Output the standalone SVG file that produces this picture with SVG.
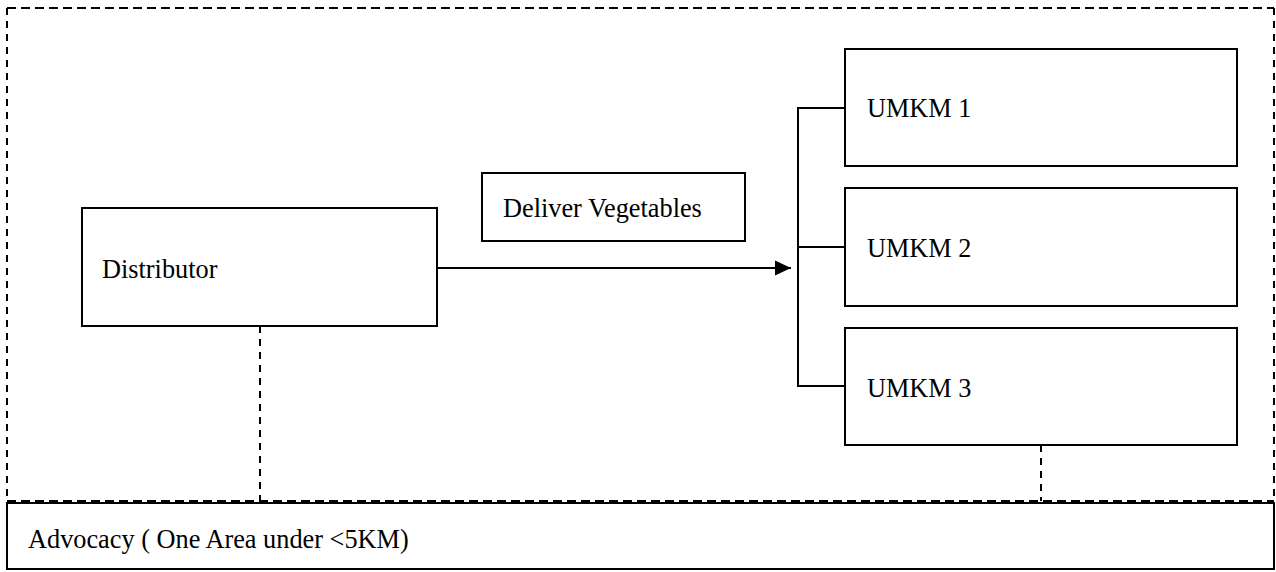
<svg xmlns="http://www.w3.org/2000/svg" width="1276" height="572" viewBox="0 0 1276 572">
<style>
.box{fill:#fff;stroke:#000;stroke-width:2}
.t{font-family:"Liberation Serif","Times New Roman",serif;font-size:26.3px;fill:#000}
.ln{stroke:#000;stroke-width:2;fill:none}
.dh{stroke:#000;stroke-width:2;fill:none;stroke-dasharray:9 5}
.dv{stroke:#000;stroke-width:2;fill:none;stroke-dasharray:7 6}
</style>
<defs>
<marker id="arr" markerWidth="16" markerHeight="16" refX="16" refY="8" orient="auto" markerUnits="userSpaceOnUse">
<path d="M0,0.5 L16,8 L0,15.5 Z" fill="#000"/>
</marker>
</defs>
<g id="boundary">
<line class="dh" x1="7" y1="8" x2="1274" y2="8"/>
<line class="dv" x1="7" y1="8" x2="7" y2="501"/>
<line class="dv" x1="1274" y1="8" x2="1274" y2="501"/>
<line class="dh" x1="7" y1="501" x2="1274" y2="501"/>
</g>
<g id="connectors">
<line class="ln" x1="437" y1="268" x2="791" y2="268" marker-end="url(#arr)"/>
<polyline class="ln" points="845,108 798,108 798,386 845,386"/>
<line class="ln" x1="798" y1="247" x2="845" y2="247"/>
<line class="dv" x1="260" y1="326" x2="260" y2="501"/>
<line class="dv" x1="1041" y1="445" x2="1041" y2="501"/>
</g>
<g id="distributor">
<rect class="box" x="82" y="208" width="355" height="118"/>
<text class="t" x="102" y="278">Distributor</text>
</g>
<g id="deliver">
<rect class="box" x="482" y="173" width="263" height="68"/>
<text class="t" x="503" y="217">Deliver Vegetables</text>
</g>
<g id="umkm1">
<rect class="box" x="845" y="49" width="392" height="117"/>
<text class="t" x="867" y="117">UMKM 1</text>
</g>
<g id="umkm2">
<rect class="box" x="845" y="188" width="392" height="118"/>
<text class="t" x="867" y="257">UMKM 2</text>
</g>
<g id="umkm3">
<rect class="box" x="845" y="328" width="392" height="117"/>
<text class="t" x="867" y="397">UMKM 3</text>
</g>
<g id="advocacy">
<rect class="box" x="7" y="503" width="1267" height="66"/>
<text class="t" x="28" y="548">Advocacy ( One Area under &lt;5KM)</text>
</g>
</svg>
